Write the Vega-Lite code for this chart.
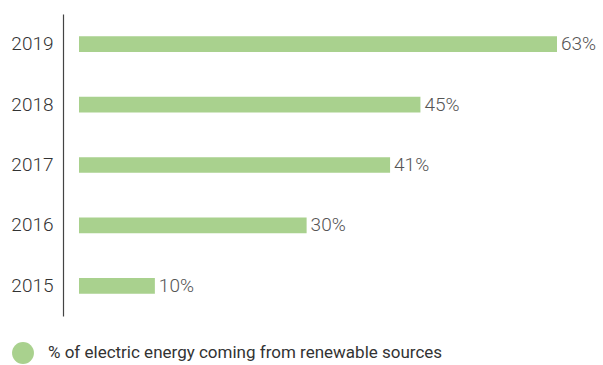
{
  "$schema": "https://vega.github.io/schema/vega-lite/v6.json",
  "width": 478,
  "height": 302,
  "autosize": {"type": "none"},
  "padding": {"left": 79, "top": 14, "right": 46, "bottom": 49},
  "background": "white",
  "config": {"view": {"stroke": null}},
  "data": {
    "values": [
      {"year": "2019", "value": 63, "label": "63%", "series": "% of electric energy coming from renewable sources"},
      {"year": "2018", "value": 45, "label": "45%", "series": "% of electric energy coming from renewable sources"},
      {"year": "2017", "value": 41, "label": "41%", "series": "% of electric energy coming from renewable sources"},
      {"year": "2016", "value": 30, "label": "30%", "series": "% of electric energy coming from renewable sources"},
      {"year": "2015", "value": 10, "label": "10%", "series": "% of electric energy coming from renewable sources"}
    ]
  },
  "encoding": {
    "y": {
      "field": "year",
      "type": "nominal",
      "sort": "descending",
      "scale": {"paddingInner": 0.74, "paddingOuter": 0.37},
      "axis": {
        "title": null,
        "offset": 16,
        "ticks": false,
        "domainColor": "#444444",
        "domainWidth": 1.2,
        "labelPadding": 10,
        "labelFont": "Roboto",
        "labelFontWeight": 300,
        "labelFontSize": 19,
        "labelColor": "#333333"
      }
    },
    "x": {
      "field": "value",
      "type": "quantitative",
      "scale": {"domain": [0, 63], "nice": false},
      "axis": null
    }
  },
  "layer": [
    {
      "mark": {"type": "bar"},
      "encoding": {
        "color": {
          "field": "series",
          "type": "nominal",
          "scale": {"range": ["#a9d18e"]},
          "legend": {
            "title": null,
            "orient": "none",
            "legendX": -67,
            "legendY": 328,
            "symbolType": "circle",
            "symbolSize": 480,
            "symbolStrokeWidth": 0,
            "symbolOpacity": 1,
            "labelFont": "Roboto",
            "labelFontSize": 17,
            "labelLimit": 600,
            "labelColor": "#333333",
            "labelOffset": 14
          }
        }
      }
    },
    {
      "mark": {
        "type": "text",
        "align": "left",
        "baseline": "middle",
        "dx": 4,
        "font": "Roboto",
        "fontWeight": 300,
        "fontSize": 19,
        "color": "#555555"
      },
      "encoding": {"text": {"field": "label"}}
    }
  ]
}
